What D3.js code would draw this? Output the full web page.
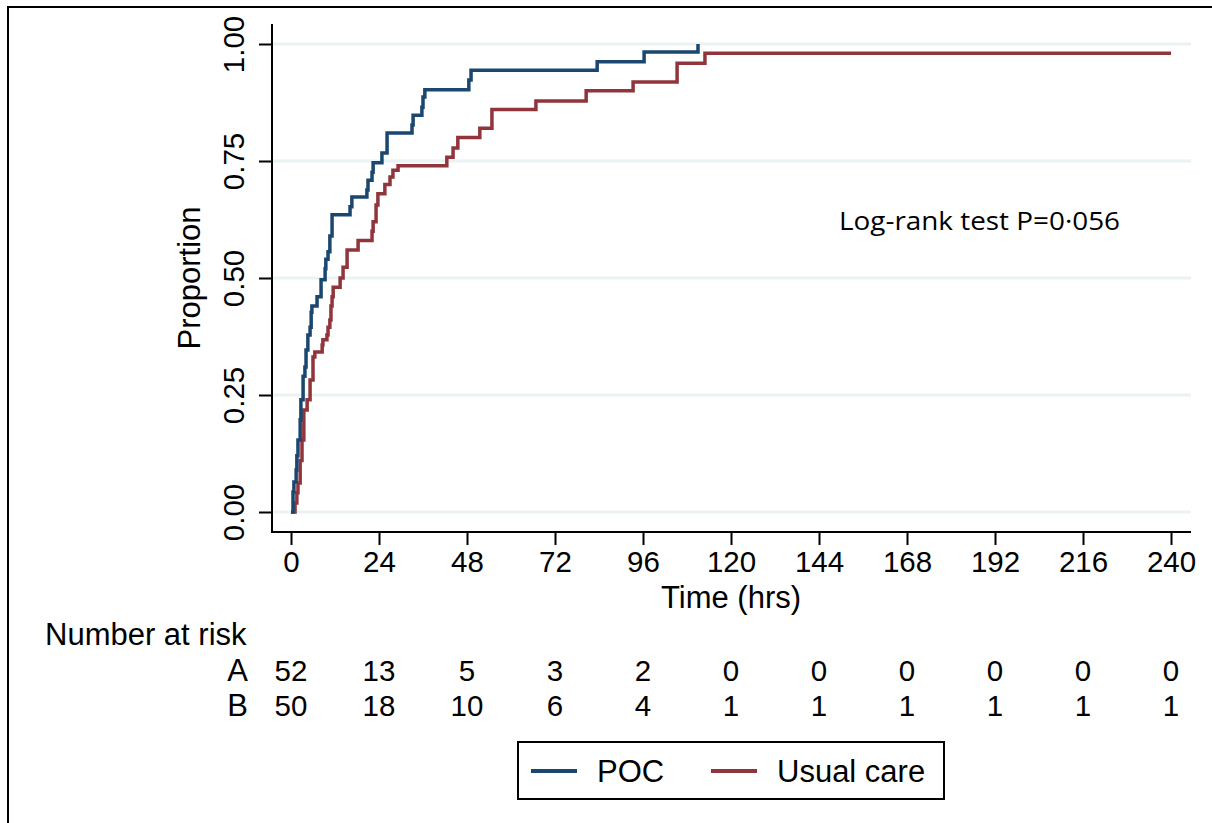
<!DOCTYPE html>
<html>
<head>
<meta charset="utf-8">
<script src="https://cdn.jsdelivr.net/npm/d3@7"></script>
<style>
  body { margin: 0; background: #fff; }
  svg { display: block; font-family: "Liberation Sans", Arial, sans-serif; }
</style>
</head>
<body>
<svg id="chart"></svg>
<script>
// cumulative proportion by time (hrs)
const pocTimes = [0, 0.55, 0.8, 1.4, 1.6, 1.9, 2.5, 2.7, 3.3, 3.8, 4.1, 4.6, 5.2, 5.5, 5.7, 7.1, 8.2, 9.3, 9.5, 10.1, 10.6, 11.2, 16.1, 16.6, 20.7, 21.0, 22.1, 22.4, 24.8, 26.2, 33.0, 33.3, 35.7, 36.0, 36.5, 48.5, 49.1, 83.5, 96.3, 111];
const pocProp = [0, 0.043, 0.064, 0.09, 0.12, 0.154, 0.197, 0.24, 0.29, 0.31, 0.346, 0.378, 0.395, 0.427, 0.44, 0.46, 0.496, 0.52, 0.54, 0.556, 0.59, 0.635, 0.652, 0.673, 0.688, 0.709, 0.726, 0.746, 0.767, 0.81, 0.827, 0.848, 0.865, 0.887, 0.902, 0.923, 0.944, 0.962, 0.983, 1.0];

const ucTimes = [0, 1.1, 1.6, 1.9, 2.5, 3.0, 3.5, 4.4, 5.2, 6.0, 6.5, 8.5, 8.7, 9.8, 10.1, 10.6, 10.9, 11.2, 11.5, 13.4, 14.2, 15.3, 18.3, 22.1, 22.4, 23.2, 23.7, 25.6, 27.0, 27.8, 29.2, 42.5, 44.2, 45.5, 51.5, 54.8, 66.8, 80.5, 93.3, 105.3, 112.9, 240];
const ucProp = [0, 0.019, 0.041, 0.062, 0.11, 0.154, 0.218, 0.24, 0.282, 0.331, 0.342, 0.357, 0.368, 0.378, 0.395, 0.41, 0.44, 0.46, 0.48, 0.5, 0.523, 0.56, 0.58, 0.6, 0.62, 0.656, 0.68, 0.70, 0.716, 0.73, 0.74, 0.758, 0.778, 0.80, 0.82, 0.86, 0.878, 0.90, 0.919, 0.959, 0.98, 0.98];

const xTicks = [0, 24, 48, 72, 96, 120, 144, 168, 192, 216, 240];
const yTicks = [0, 0.25, 0.5, 0.75, 1];
const riskGroups = ["A", "B"];
const riskA = [52, 13, 5, 3, 2, 0, 0, 0, 0, 0, 0];
const riskB = [50, 18, 10, 6, 4, 1, 1, 1, 1, 1, 1];
const seriesNames = ["POC", "Usual care"];

const width = 1212;
const height = 823;
const blue = "#1a476f";
const red = "#90353b";
const fsNum = 29.5;   // tick labels and counts
const fs = 31;        // titles and words

const svg = d3.select("#chart")
    .attr("width", width)
    .attr("height", height)
    .attr("viewBox", [0, 0, width, height]);

// outer frame (left and top edges visible)
svg.append("rect")
    .attr("x", 8).attr("y", 7)
    .attr("width", width + 20).attr("height", height + 20)
    .attr("fill", "none").attr("stroke", "#000").attr("stroke-width", 2);

const x = d3.scaleLinear([0, 240], [291, 1171]);
const y = d3.scaleLinear([0, 1], [512, 44]);
const plotLeft = 272, plotRight = 1191, plotTop = 24, plotBottom = 532;

// grid
svg.append("g")
    .selectAll("line")
    .data(yTicks)
    .join("line")
    .attr("x1", plotLeft + 1).attr("x2", plotRight)
    .attr("y1", d => y(d)).attr("y2", d => y(d))
    .attr("stroke", "#eaf2f3").attr("stroke-width", 3);

// axes
const yAxis = svg.append("g")
    .attr("transform", `translate(${plotLeft},0)`)
    .call(d3.axisLeft(y).tickValues(yTicks).tickFormat(d3.format(".2f")).tickSize(13).tickPadding(0));
yAxis.select(".domain").remove();
yAxis.selectAll(".tick line").attr("stroke", "#000").attr("stroke-width", 2);
yAxis.selectAll(".tick text")
    .attr("font-size", fsNum).attr("font-family", "Liberation Sans, Arial, sans-serif").attr("fill", "#000")
    .attr("text-anchor", "middle").attr("dy", null).attr("x", null)
    .attr("transform", "translate(-28,0) rotate(-90)");

const xAxis = svg.append("g")
    .attr("transform", `translate(0,${plotBottom})`)
    .call(d3.axisBottom(x).tickValues(xTicks).tickFormat(d3.format("d")).tickSize(13).tickPadding(6));
xAxis.select(".domain").remove();
xAxis.selectAll(".tick line").attr("stroke", "#000").attr("stroke-width", 2);
xAxis.selectAll(".tick text")
    .attr("font-size", fsNum).attr("font-family", "Liberation Sans, Arial, sans-serif").attr("fill", "#000");

svg.append("path")
    .attr("d", `M${plotLeft},${plotTop}V${plotBottom}H${plotRight}`)
    .attr("fill", "none").attr("stroke", "#000").attr("stroke-width", 2);

// axis titles
svg.append("text")
    .attr("transform", `translate(200,278) rotate(-90)`)
    .attr("text-anchor", "middle").attr("font-size", fs)
    .text("Proportion");
svg.append("text")
    .attr("x", 731).attr("y", 608)
    .attr("text-anchor", "middle").attr("font-size", fs)
    .text("Time (hrs)");

// curves
const line = d3.line()
    .x(d => x(d[0]))
    .y(d => y(d[1]))
    .curve(d3.curveStepAfter);

svg.append("path")
    .datum(d3.zip(ucTimes, ucProp))
    .attr("d", line)
    .attr("fill", "none").attr("stroke", red).attr("stroke-width", 3.5);

svg.append("path")
    .datum(d3.zip(pocTimes, pocProp))
    .attr("d", line)
    .attr("fill", "none").attr("stroke", blue).attr("stroke-width", 3.5);

svg.append("text")
    .attr("x", 839).attr("y", 230)
    .attr("font-family", "Open Sans, sans-serif").attr("font-size", 26)
    .attr("textLength", 281).attr("lengthAdjust", "spacingAndGlyphs")
    .text("Log-rank test P=0·056");

// number at risk table
svg.append("text")
    .attr("x", 45).attr("y", 645).attr("font-size", fs)
    .text("Number at risk");

const riskRows = [riskA, riskB];
riskRows.forEach((row, i) => {
    const yy = 681 + i * 35;
    svg.append("text")
        .attr("x", 248).attr("y", yy).attr("text-anchor", "end").attr("font-size", fs)
        .text(riskGroups[i]);
    svg.append("g")
        .selectAll("text")
        .data(row)
        .join("text")
        .attr("x", (d, j) => x(xTicks[j]))
        .attr("y", yy)
        .attr("text-anchor", "middle").attr("font-size", fsNum)
        .text(d => d);
});

// legend
const legend = svg.append("g");
legend.append("rect")
    .attr("x", 518).attr("y", 742).attr("width", 426).attr("height", 57)
    .attr("fill", "#fff").attr("stroke", "#000").attr("stroke-width", 2);
const legendX = [531, 711];
seriesNames.forEach((name, i) => {
    legend.append("line")
        .attr("x1", legendX[i]).attr("x2", legendX[i] + 46)
        .attr("y1", 771).attr("y2", 771)
        .attr("stroke", [blue, red][i]).attr("stroke-width", 4);
    legend.append("text")
        .attr("x", legendX[i] + 66).attr("y", 782).attr("font-size", fs)
        .text(name);
});
</script>
</body>
</html>
